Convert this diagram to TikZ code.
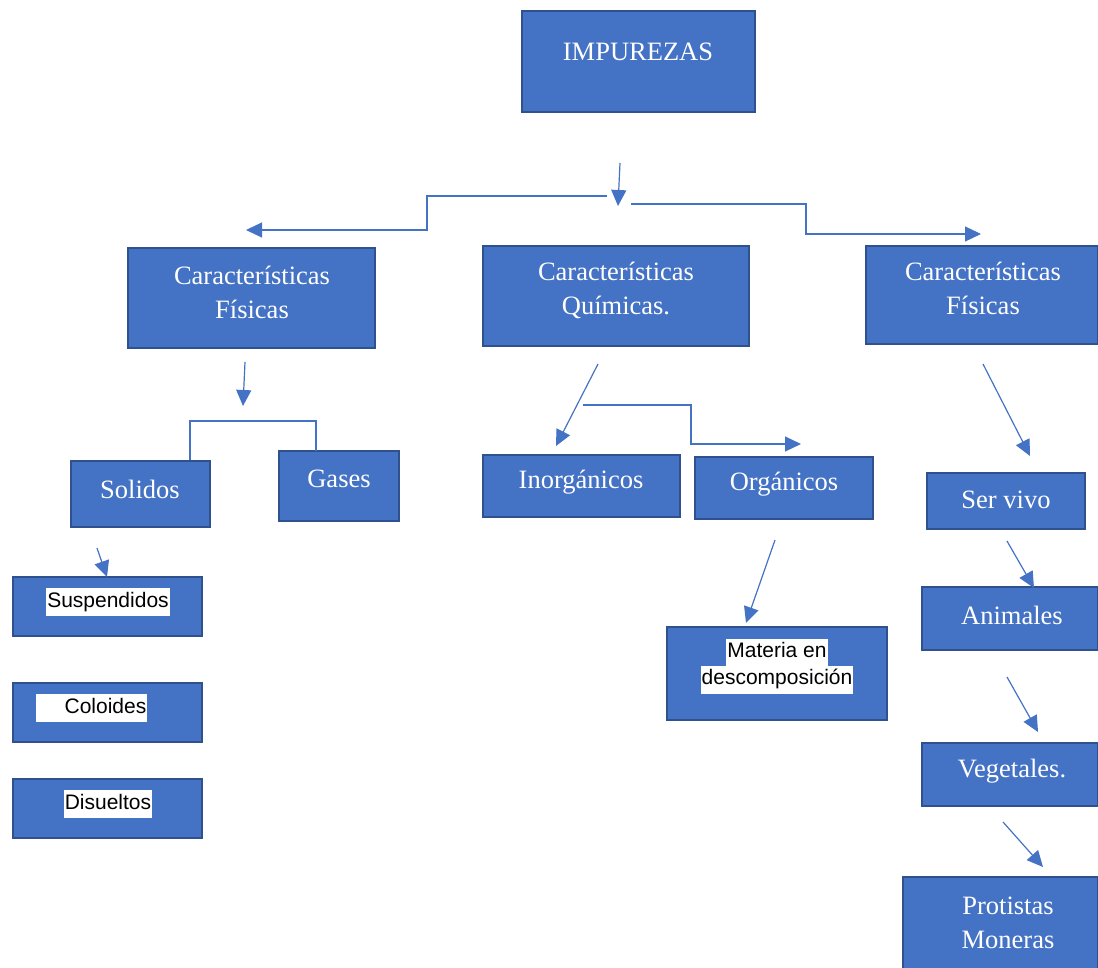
\documentclass[tikz,border=0pt]{standalone}
\usepackage{fontspec}
\setmainfont{Liberation Serif}
\newfontfamily\arial{Liberation Sans}
\usetikzlibrary{arrows.meta}
\definecolor{azul}{HTML}{4472C4}
\definecolor{borde}{HTML}{2F528F}
\newcommand{\blanco}[1]{{\setlength{\fboxsep}{1pt}\colorbox{white}{\strut #1}}}

\tikzset{
 caja/.style={draw=borde, fill=azul, line width=1.5pt, inner sep=0pt},
 letra/.style={text=white, font=\fontsize{26.5}{34}\selectfont, align=center, inner sep=0pt},
 letrab/.style={text=black, font=\arial\fontsize{21}{26}\selectfont, align=center, inner sep=0pt},
 flecha/.style={azul, line width=1.2pt, -{Triangle[length=16pt,width=15pt]}},
 linea/.style={azul, line width=1.2pt}
}

\begin{document}
\begin{tikzpicture}[line join=miter,x=1pt,y=-1pt]
		\useasboundingbox (0,0) rectangle (1098,968);
		% cajas
		\node[caja, minimum width=233pt, minimum height=101pt] (imp) at (638.5,61.5) {};
		\node[caja, minimum width=247pt, minimum height=100pt] (cfi) at (251.5,298) {};
		\node[caja, minimum width=266pt, minimum height=100pt] (cqu) at (616,296) {};
		\node[caja, minimum width=232pt, minimum height=98pt] (cfd) at (982,295) {};
		\node[caja, minimum width=139pt, minimum height=66pt] (sol) at (140.5,494) {};
		\node[caja, minimum width=120pt, minimum height=70pt] (gas) at (339,486) {};
		\node[caja, minimum width=197pt, minimum height=62pt] (ino) at (581.5,486) {};
		\node[caja, minimum width=178pt, minimum height=62pt] (org) at (784,488) {};
		\node[caja, minimum width=158pt, minimum height=56pt] (ser) at (1006,501) {};
		\node[caja, minimum width=176pt, minimum height=63pt] (ani) at (1010,618.5) {};
		\node[caja, minimum width=176pt, minimum height=63pt] (veg) at (1010,774.5) {};
		\node[caja, minimum width=195pt, minimum height=95pt] (pro) at (1000.5,924.5) {};
		\node[caja, minimum width=189pt, minimum height=59pt] (sus) at (107.5,606.5) {};
		\node[caja, minimum width=189pt, minimum height=59pt] (col) at (107.5,712.5) {};
		\node[caja, minimum width=189pt, minimum height=59pt] (dis) at (107.5,808.5) {};
		\node[caja, minimum width=220pt, minimum height=93pt] (mat) at (777,673.5) {};
		% textos
		\node[letra] (impT) at (638,52) {IMPUREZAS};
		\node[letra] (cfiT) at (252,292) {Características\\Físicas};
		\node[letra] (cquT) at (616,290) {Características\\Químicas.};
		\node[letra] (cfdT) at (983,288) {Características\\Físicas};
		\node[letra] (solT) at (140,489) {Solidos};
		\node[letra] (gasT) at (339,479) {Gases};
		\node[letra] (inoT) at (581,482) {Inorgánicos};
		\node[letra] (orgT) at (784,484) {Orgánicos};
		\node[letra] (serT) at (1006,500) {Ser vivo};
		\node[letra] (aniT) at (1012,615) {Animales};
		\node[letra] (vegT) at (1012,771) {Vegetales.};
		\node[letra] (proT) at (1008,923) {Protistas\\Moneras};
		\node[letrab] (susT) at (108,602) {\blanco{Suspendidos}};
		\node[letrab] (colT) at (91.5,708) {\blanco{\hspace{28pt}Coloides}};
		\node[letrab] (disT) at (108,804) {\blanco{Disueltos}};
		\node[letrab] (matT) at (777,666) {\blanco{Materia en}\\[-2pt]\blanco{descomposición}};
		% puntos de las flechas
		\coordinate (p1) at (620,163); \coordinate (p1f) at (618,206);
		\coordinate (p2) at (607,196); \coordinate (p2f) at (246,230);
		\coordinate (p3) at (631,204); \coordinate (p3f) at (981,234);
		\coordinate (p4) at (245,362); \coordinate (p4f) at (243,406);
		\coordinate (p5) at (190,460); \coordinate (p5f) at (316,451);
		\coordinate (p6) at (598,364); \coordinate (p6f) at (556,446);
		\coordinate (p7) at (583,405); \coordinate (p7f) at (801,444);
		\coordinate (p8) at (983,364); \coordinate (p8f) at (1030,456);
		\coordinate (p9) at (97,548); \coordinate (p9f) at (107,577);
		\coordinate (p10) at (775,540); \coordinate (p10f) at (746,623);
		\coordinate (p11) at (1007,541); \coordinate (p11f) at (1034,588);
		\coordinate (p12) at (1007,677); \coordinate (p12f) at (1038,732);
		\coordinate (p13) at (1003,822); \coordinate (p13f) at (1043,867);
		% flechas
		\draw[flecha] (p1) -- (p1f);
		\draw[flecha] (p2) -- (427,196) -- (427,230) -- (p2f);
		\draw[flecha] (p3) -- (806,204) -- (806,234) -- (p3f);
		\draw[flecha] (p4) -- (p4f);
		\draw[linea] (p5) -- (190,421) -- (316,421) -- (p5f);
		\draw[flecha] (p6) -- (p6f);
		\draw[flecha] (p7) -- (691,405) -- (691,444) -- (p7f);
		\draw[flecha] (p8) -- (p8f);
		\draw[flecha] (p9) -- (p9f);
		\draw[flecha] (p10) -- (p10f);
		\draw[flecha] (p11) -- (p11f);
		\draw[flecha] (p12) -- (p12f);
		\draw[flecha] (p13) -- (p13f);
\end{tikzpicture}
\end{document}
